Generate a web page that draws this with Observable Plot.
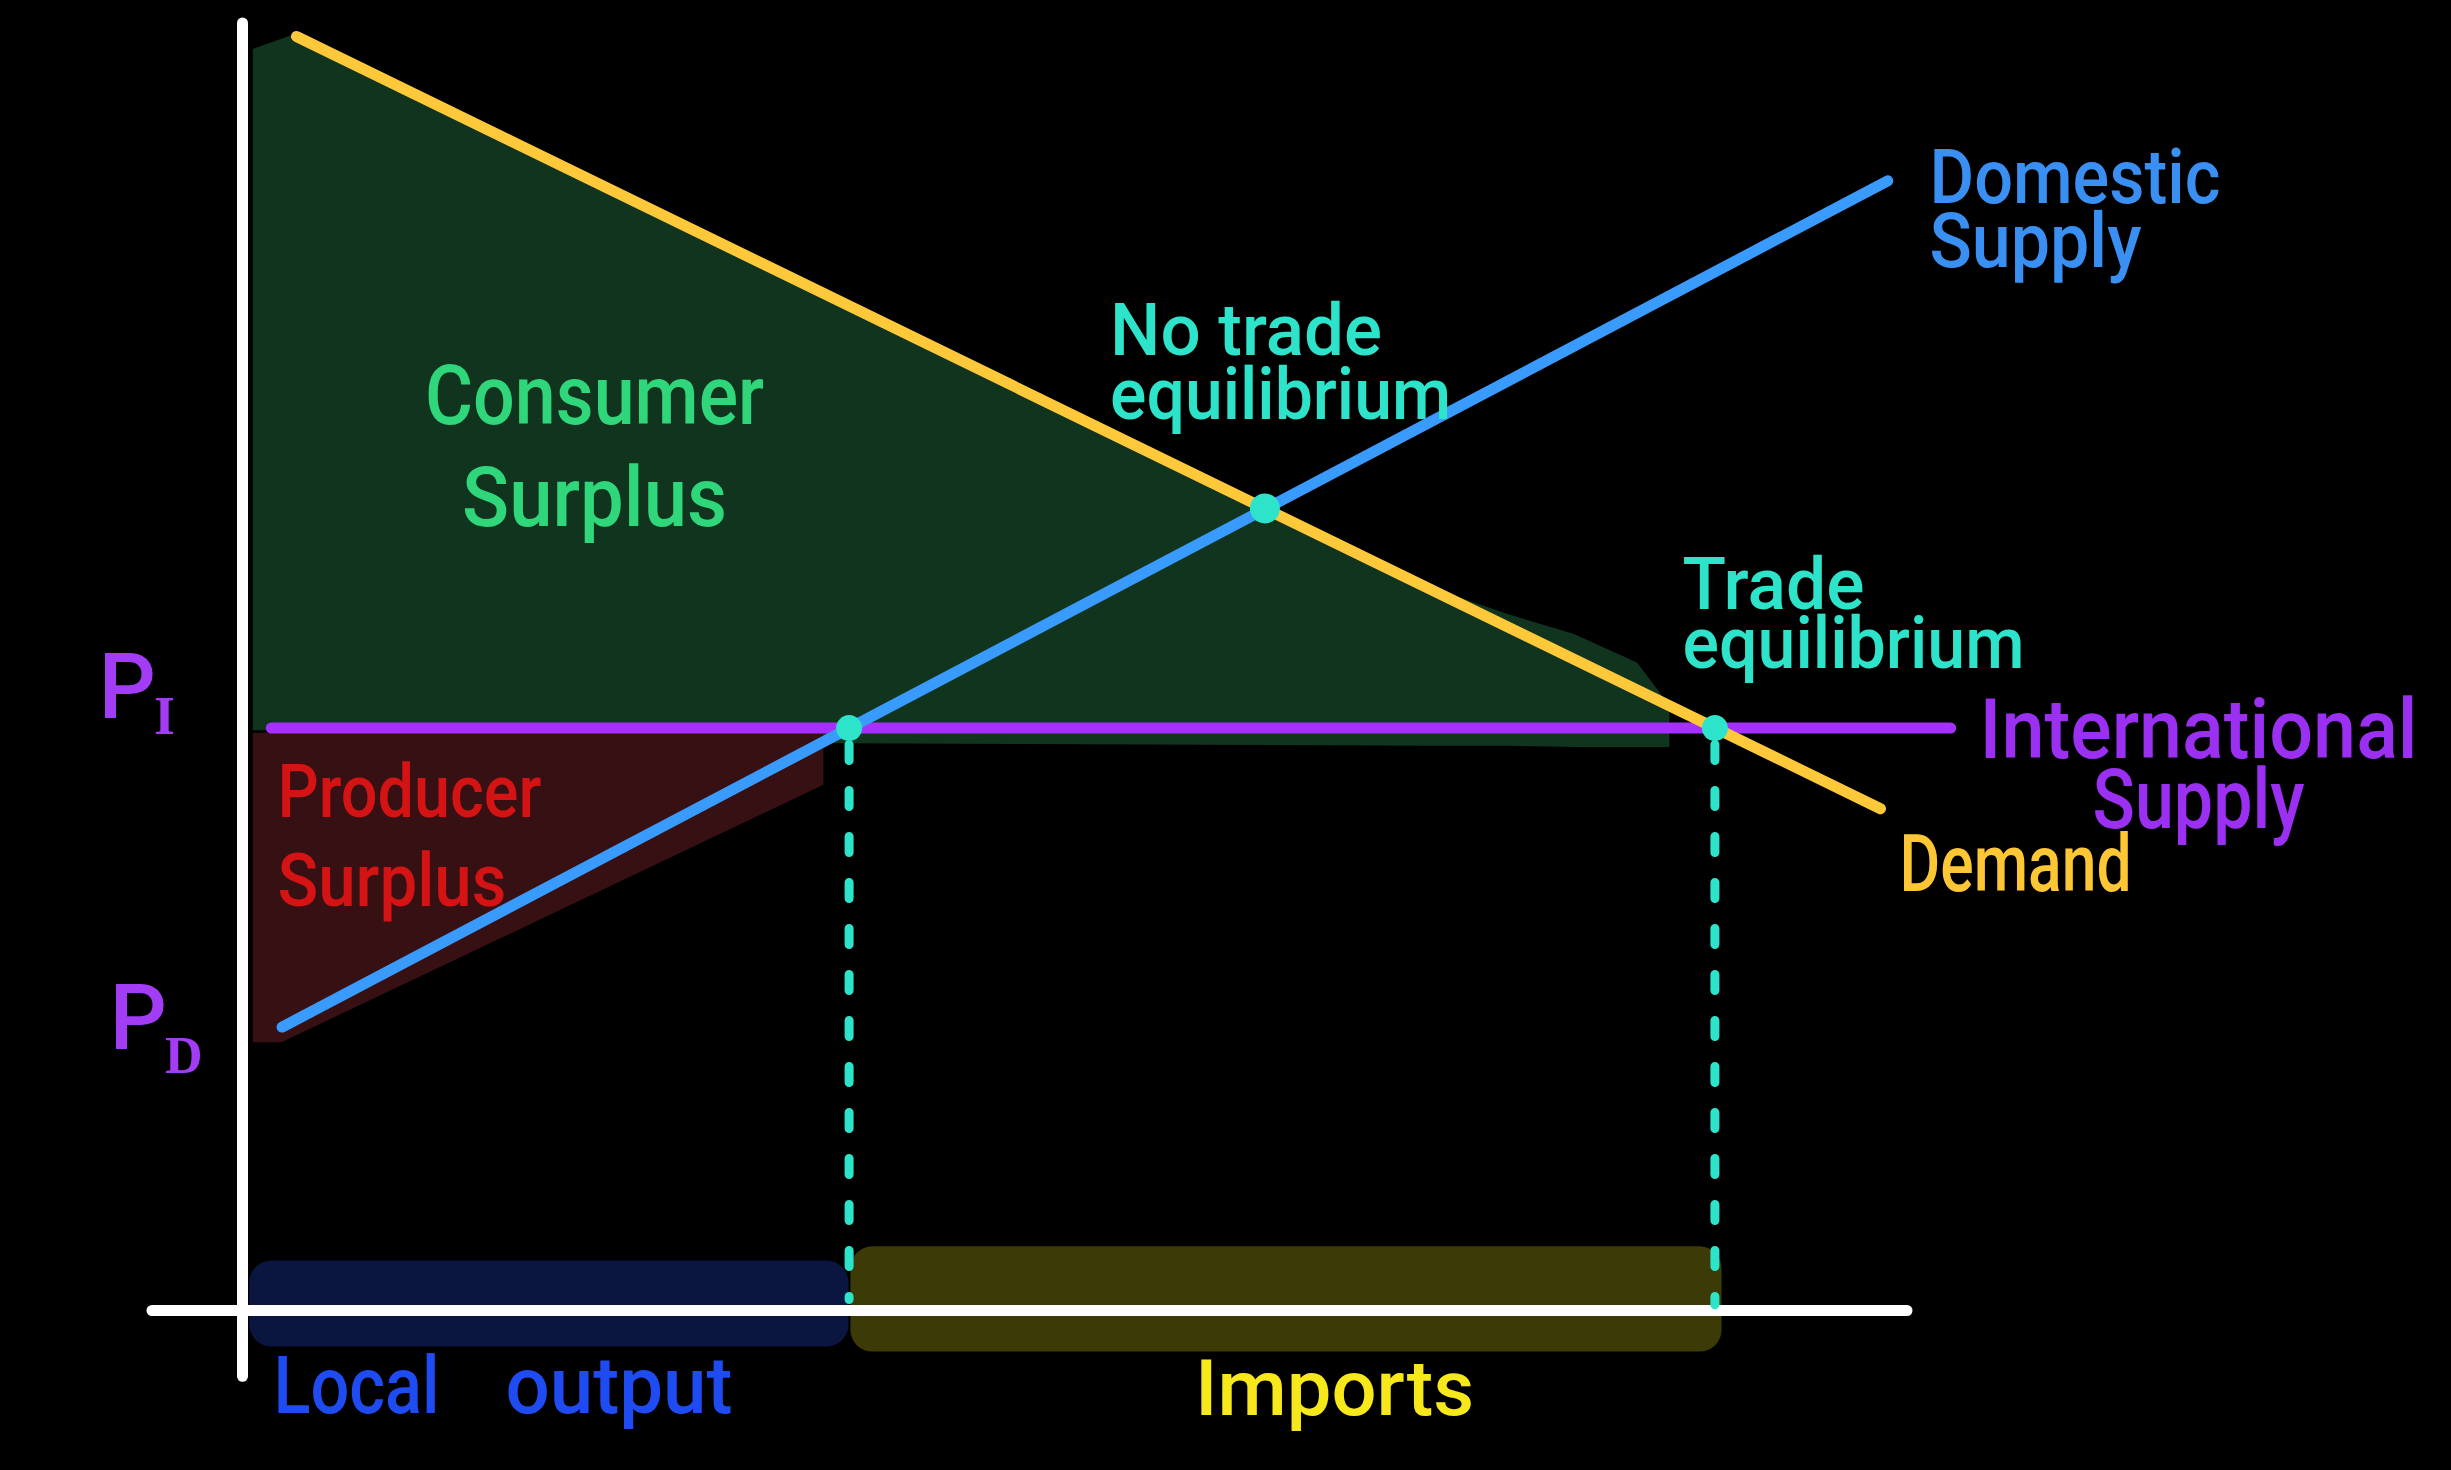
<!DOCTYPE html>
<html>
<head>
<meta charset="utf-8">
<script src="https://cdn.jsdelivr.net/npm/d3@7"></script>
<script src="https://cdn.jsdelivr.net/npm/@observablehq/plot@0.6"></script>
<style>
  html, body { margin: 0; padding: 0; background: #000; overflow: hidden; }
  #chart svg { display: block; }
</style>
</head>
<body>
<div id="chart"></div>
<script>
// ---- Data (quantity Q on x, price P on y) ----
const demandQ = [3, 91];
const demandP = [98, 38.6];
const supplyQ = [2.2, 91.4];
const supplyP = [21.8, 86.9];
const worldPrice = 44.8;
const worldQ = [1.6, 94.9];
const noTradeEq = [{q: 56.8, p: 61.7}];
const tradeQ = [33.7, 81.8];           // local output / total demand at world price
const dashTopP = [43.5, 43.5];
const dashBottomP = [0.8, 0.4];

// consumer surplus region (top boundary along demand)
const csQ = [0.6, 3, 33, 66, 70.4, 74, 77.5, 79.3];
const csTop = [97, 98.2, 77.9, 55.6, 53.5, 52, 49.8, 46.5];
const csBottom = [44.6, 44.6, 43.6, 43.4, 43.4, 43.3, 43.3, 43.3];
// producer surplus region
const psQ = [0.6, 2.2, 32.3];
const psBottom = [20.6, 20.6, 40.4];
const psTop = 44.4;

// axes extents
const axisYRange = [-5.1, 99];
const axisXRange = [-5, 92.5];

// bands under the quantity axis
const bandNames = ["local", "imports"];
const bandQ1 = [0.4, 33.8];
const bandQ2 = [33.7, 82.2];
const bandP1 = [-2.8, -3.2];
const bandP2 = [3.8, 4.9];

// labels (data units; baseline of last line)
const labelText = [
  "Consumer\nSurplus", "Producer\nSurplus", "No trade\nequilibrium", "Trade\nequilibrium",
  "Domestic\nSupply", "International\nSupply", "Demand", "Local", "output", "Imports",
  "P_I", "P_D"
];
const labelQ = [19.56, 1.94, 48.2, 80.0, 93.72, 108.67, 92.06, 1.72, 14.61, 60.67, -8.0, -7.39];
const labelP = [60.38, 31.15, 68.54, 49.4, 80.3, 37.15, 32.3, -7.92, -7.92, -8.0, 45.6, 20.15];

// ---- Styles ----
const FONT = "Roboto, 'Noto Sans', sans-serif";
const C = {
  cs: "#2fd67a", ps: "#d41414", eq: "#2de3c9", imp: "#f7e81c",
  dom: "#3a8ff2", int: "#9b2ff2", dem: "#fcc634", loc: "#1f4cf2", price: "#a23cf5"
};
const labelStyle = [
  {color: C.cs, size: 84, lh: 1.21, anchor: "middle", widths: [339, 265]},
  {color: C.ps, size: 74, lh: 1.2, anchor: "start", widths: [264, 229]},
  {color: C.eq, size: 72, lh: 0.89, anchor: "start", widths: [272, 341]},
  {color: C.eq, size: 72, lh: 0.83, anchor: "start", widths: [182, 342]},
  {color: C.dom, size: 76, lh: 0.84, anchor: "start", widths: [291, 212]},
  {color: C.int, size: 84, lh: 0.83, anchor: "middle", widths: [438, 212]},
  {color: C.dem, size: 80, lh: 1, anchor: "start", widths: [232]},
  {color: C.loc, size: 80, lh: 1, anchor: "start", widths: [166]},
  {color: C.loc, size: 80, lh: 1, anchor: "start", widths: [227]},
  {color: C.imp, size: 78, lh: 1, anchor: "middle", widths: [279]},
  {color: C.price, size: 90, lh: 1, anchor: "start", sub: {size: 54, dx: -2, dy: 16}},
  {color: C.price, size: 90, lh: 1, anchor: "start", sub: {size: 52, dx: -2, dy: 24}}
];

const demand = demandQ.map((q, i) => ({q, p: demandP[i]}));
const supply = supplyQ.map((q, i) => ({q, p: supplyP[i]}));
const world = worldQ.map(q => ({q, p: worldPrice}));
const cs = csQ.map((q, i) => ({q, top: csTop[i], bottom: csBottom[i]}));
const ps = psQ.map((q, i) => ({q, top: psTop, bottom: psBottom[i]}));
const tradeDots = tradeQ.map(q => ({q, p: worldPrice}));
const dashes = tradeQ.map((q, i) => ({q, p1: dashTopP[i], p2: dashBottomP[i]}));
const bands = bandNames.map((name, i) => ({name, x1: bandQ1[i], x2: bandQ2[i], y1: bandP1[i], y2: bandP2[i]}));
const labels = labelText.map((text, i) => ({text, q: labelQ[i], p: labelP[i]}));

const textMarks = labels.map((d, i) => {
  const s = labelStyle[i];
  return Plot.text([d], {
    x: "q", y: "p", text: "text", fill: s.color, fontSize: s.size,
    fontFamily: FONT, fontWeight: 500, textAnchor: s.anchor,
    lineAnchor: "bottom", lineHeight: s.lh
  });
});

const chart = Plot.plot({
  width: 2451,
  height: 1470,
  marginLeft: 242,
  marginRight: 409,
  marginTop: 10,
  marginBottom: 160,
  x: {domain: [0, 100], axis: null},
  y: {domain: [0, 100], axis: null},
  style: {background: "#000", overflow: "visible"},
  marks: [
    Plot.areaY(cs, {x: "q", y1: "bottom", y2: "top", fill: "#11341f"}),
    Plot.areaY(ps, {x: "q", y1: "bottom", y2: "top", fill: "#361012"}),
    Plot.rect(bands.filter(d => d.name === "local"), {x1: "x1", x2: "x2", y1: "y1", y2: "y2", fill: "#0a1540", rx: 22}),
    Plot.rect(bands.filter(d => d.name === "imports"), {x1: "x1", x2: "x2", y1: "y1", y2: "y2", fill: "#3c3a07", rx: 22}),
    Plot.ruleX([0], {y1: axisYRange[0], y2: axisYRange[1], stroke: "#fff", strokeWidth: 11, strokeLinecap: "round"}),
    Plot.ruleY([0], {x1: axisXRange[0], x2: axisXRange[1], stroke: "#fff", strokeWidth: 11, strokeLinecap: "round"}),
    Plot.line(world, {x: "q", y: "p", stroke: "#a530ff", strokeWidth: 11, strokeLinecap: "round"}),
    Plot.line(demand, {x: "q", y: "p", stroke: "#fdc83a", strokeWidth: 11, strokeLinecap: "round"}),
    Plot.line(supply, {x: "q", y: "p", stroke: "#3a9bff", strokeWidth: 11, strokeLinecap: "round"}),
    Plot.ruleX(dashes, {x: "q", y1: "p1", y2: "p2", stroke: "#2de3c9", strokeWidth: 9, strokeDasharray: "16,30", strokeLinecap: "round"}),
    Plot.dot(noTradeEq, {x: "q", y: "p", r: 15, fill: "#2de3c9"}),
    Plot.dot(tradeDots, {x: "q", y: "p", r: 13, fill: "#2de3c9"}),
    ...textMarks
  ]
});
document.getElementById("chart").appendChild(chart);

// Hand-lettered look: condense each line to the reference width; add subscripts.
d3.select(chart).selectAll("text").each(function (_, i) {
  const s = labelStyle[i];
  if (!s) return;
  const t = d3.select(this);
  if (s.sub) {
    const [main, sub] = this.textContent.split("_");
    t.text(main);
    t.append("tspan")
      .attr("dx", s.sub.dx).attr("dy", s.sub.dy)
      .attr("font-size", s.sub.size)
      .attr("font-family", "'Liberation Serif', serif")
      .attr("font-weight", 700)
      .text(sub);
    return;
  }
  const spans = t.selectAll("tspan");
  if (spans.empty()) {
    t.attr("textLength", s.widths[0]).attr("lengthAdjust", "spacingAndGlyphs");
  } else {
    spans.each(function (_, j) {
      d3.select(this).attr("textLength", s.widths[j]).attr("lengthAdjust", "spacingAndGlyphs");
    });
  }
});
</script>
</body>
</html>
